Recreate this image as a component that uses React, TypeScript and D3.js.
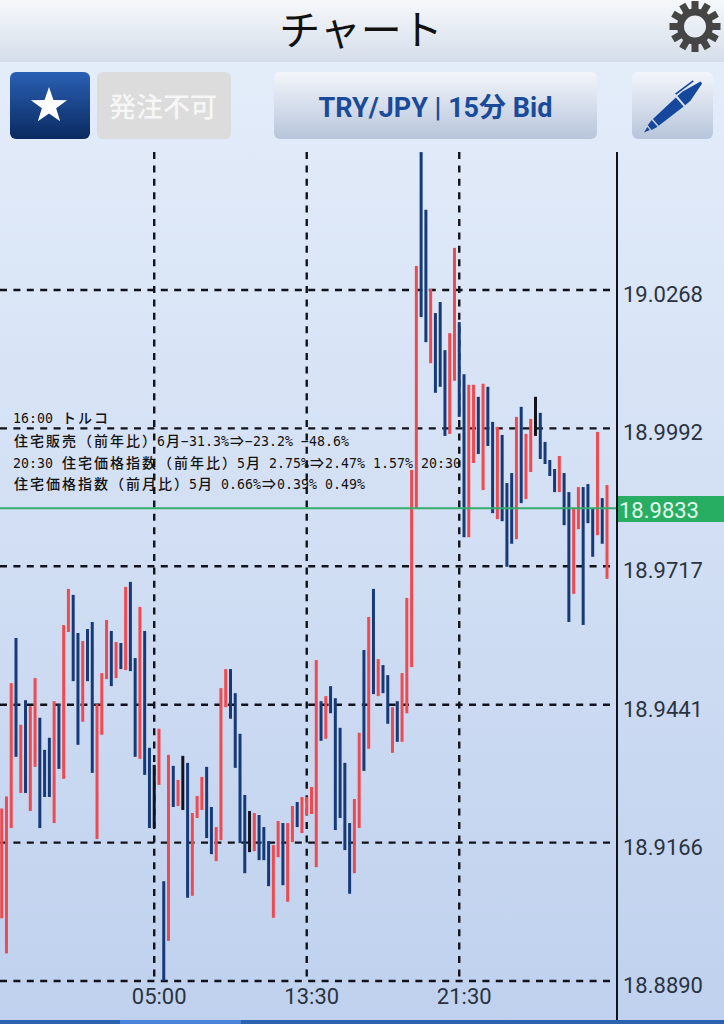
import React from "react";
import * as d3 from "d3";

const highs = [
  18.9234, 18.9258, 18.9484, 18.9574, 18.9401, 18.945, 18.9438, 18.9494, 18.9415, 18.9351,
  18.9375, 18.9448, 18.9442, 18.96, 18.9672, 18.966, 18.9584, 18.9568, 18.9592, 18.9606,
  18.9442, 18.9504, 18.961, 18.9588, 18.9566, 18.9564, 18.9676, 18.9686, 18.9534, 18.9636,
  18.9588, 18.9355, 18.9321, 18.9393, 18.9089, 18.9341, 18.9319, 18.9291, 18.9339, 18.9325,
  18.9225, 18.9259, 18.9297, 18.9317, 18.9237, 18.9197, 18.9474, 18.9512, 18.9512, 18.9464,
  18.9383, 18.9261, 18.9229, 18.9225, 18.9221, 18.9197, 18.9169, 18.9161, 18.9209, 18.9205,
  18.9205, 18.9239, 18.9247, 18.9257, 18.9257, 18.9277, 18.953, 18.9448, 18.9458, 18.9478,
  18.9454, 18.9395, 18.9325, 18.9205, 18.9253, 18.9385, 18.955, 18.9616, 18.9672, 18.9532,
  18.952, 18.95, 18.9436, 18.9448, 18.9504, 18.9654, 18.9909, 19.0316, 19.0543, 19.0428,
  19.027, 19.0222, 19.0244, 19.0148, 19.0182, 19.0352, 19.0204, 19.01, 19.0079, 19.0079,
  19.0055, 19.0081, 19.0075, 19.0005, 18.9995, 18.9979, 18.9883, 18.9903, 19.0015, 19.0035,
  18.9981, 19.0011, 19.0055, 19.0023, 18.9965, 18.9929, 18.9911, 18.9937, 18.9903, 18.9865,
  18.9833, 18.9875, 18.9875, 18.9881, 18.9833, 18.9985, 18.9853, 18.9879,
];

const lows = [
  18.9015, 18.8945, 18.9195, 18.9337, 18.9265, 18.9265, 18.9229, 18.9317, 18.9195, 18.9257,
  18.9257, 18.9205, 18.9313, 18.9293, 18.9586, 18.9488, 18.9361, 18.9407, 18.9488, 18.9305,
  18.9173, 18.9381, 18.9492, 18.9478, 18.9494, 18.9512, 18.951, 18.9508, 18.9337, 18.9333,
  18.9301, 18.9195, 18.9195, 18.9281, 18.889, 18.897, 18.9237, 18.9239, 18.9231, 18.9056,
  18.906, 18.9215, 18.9231, 18.9175, 18.9143, 18.9129, 18.9171, 18.9436, 18.9413, 18.9315,
  18.9165, 18.9105, 18.9147, 18.9149, 18.9131, 18.9131, 18.9079, 18.9016, 18.9137, 18.9081,
  18.9048, 18.9167, 18.9197, 18.9185, 18.9221, 18.9223, 18.9117, 18.9369, 18.9373, 18.9424,
  18.9191, 18.9215, 18.9151, 18.9064, 18.9105, 18.9195, 18.9309, 18.9353, 18.9462, 18.9458,
  18.9464, 18.9403, 18.9345, 18.9367, 18.9367, 18.9424, 18.9516, 18.9833, 19.0214, 19.0164,
  19.0122, 19.0063, 19.0075, 18.9977, 18.9981, 19.0087, 19.0015, 18.9775, 18.9775, 18.9923,
  18.9941, 18.9869, 18.9957, 18.9823, 18.9811, 18.9807, 18.9716, 18.9762, 18.9771, 18.9843,
  18.9851, 18.9905, 18.9977, 18.9931, 18.9921, 18.9897, 18.9865, 18.9865, 18.9799, 18.9606,
  18.9662, 18.9791, 18.96, 18.9803, 18.9736, 18.9779, 18.9762, 18.9692,
];

// r = up, b = down, k = unchanged
const directions =
  "rrrbrbrrbb" + "brbrrbbrbb" + "rrrbrbrbbr" + "bbkrbrbrkb" + "rrrbbrrrbb" + "bbkrbbbrrb" +
  "rrbrrrrbrb" + "bbbbrrbrbr" + "bbrbrrrrbb" + "rbbbrrbbrr" + "brbbrbbbrb" + "rrkbbbbrbb" + "rrbbbrbr";

const priceTicks = ["19.0268", "18.9992", "18.9717", "18.9441", "18.9166", "18.8890"];
const timeTicks = [
  { bar: 32, label: "05:00" },
  { bar: 64, label: "13:30" },
  { bar: 96, label: "21:30" },
];
const lastPrice = "18.9833";

const eventLines = [
  "16:00 トルコ",
  "住宅販売（前年比）6月−31.3%⇒−23.2% −48.6%",
  "20:30 住宅価格指数（前年比）5月 2.75%⇒2.47% 1.57% 20:30",
  "住宅価格指数（前月比）5月 0.66%⇒0.39% 0.49%",
];
const eventBaselines = [423, 446, 468, 489];

const barColor: Record<string, string> = { r: "#ef4a50", b: "#163a78", k: "#10131c" };
const sans = "Roboto, 'Noto Sans CJK JP', sans-serif";
const jp = "'Noto Sans CJK JP', sans-serif";

const x = d3.scaleLinear().domain([0, highs.length - 1]).range([1.7, 607]);
const y = d3.scaleLinear().domain([18.889, 19.0268]).range([981, 290]);

const starPath = d3.lineRadial().curve(d3.curveLinearClosed)(
  d3.range(10).map(i => [(i * Math.PI) / 5, i % 2 ? 7.5 : 19] as [number, number])
) as string;

// the event box uses a half/full width terminal font: 8px and 16px cells
function EventLine({ text, baseline }: { text: string; baseline: number }) {
  let cursor = 13;
  const cells = Array.from(text).map((ch, i) => {
    const wide = /[^\x00-\x7f−]/.test(ch);
    const cell = (
      <tspan
        key={i}
        x={cursor + (wide ? 1 : 0)}
        fontFamily={wide ? jp : "'DejaVu Sans Mono', monospace"}
        fontSize={wide ? 14 : 13.2}
        fontWeight={wide ? 500 : 400}
      >
        {ch}
      </tspan>
    );
    cursor += wide ? 16 : 8;
    return cell;
  });
  return <text y={baseline} fill="#111">{cells}</text>;
}

function Gear() {
  return (
    <g transform="translate(695,26.5)" fill="#454545">
      {d3.range(12).map(i => (
        <rect key={i} x={-3.5} y={-25.5} width={7} height={12} transform={`rotate(${i * 30})`} />
      ))}
      <circle r={14.5} fill="none" stroke="#454545" strokeWidth={7} />
    </g>
  );
}

function Pen() {
  return (
    <g transform="translate(644,132.5) rotate(-40.5)" fill="#15479c">
      <path d="M0,0 L6,-2 L6,2 Z" />
      <path d="M7.5,-3 L14,-4.5 L14,4.5 L7.5,3 Z" />
      <path d="M15.5,-4.5 L47,-6 L47,6 L15.5,4.5 Z" />
      <path d="M49,-6 L56,-6 L76,-2 L76,0.5 L56,6 L49,6 Z" />
      <path d="M49,-9.5 L71,-8 L71,-6.5 L49,-7.8 Z" />
    </g>
  );
}

export default function App() {
  return (
    <svg width={724} height={1024} style={{ position: "fixed", left: 0, top: 0, display: "block" }}>
      <defs>
        <linearGradient id="header" x1="0" y1="0" x2="0" y2="1">
          <stop offset="0" stopColor="#f6f8fb" />
          <stop offset="1" stopColor="#d5deea" />
        </linearGradient>
        <linearGradient id="plot" x1="0" y1="0" x2="0" y2="1">
          <stop offset="0" stopColor="#e6eefa" />
          <stop offset="1" stopColor="#bfd1ee" />
        </linearGradient>
        <linearGradient id="navy" x1="0" y1="0" x2="0" y2="1">
          <stop offset="0" stopColor="#2a60b4" />
          <stop offset="1" stopColor="#0a2a60" />
        </linearGradient>
        <linearGradient id="button" x1="0" y1="0" x2="0" y2="1">
          <stop offset="0" stopColor="#f3f6fb" />
          <stop offset="1" stopColor="#b7c5da" />
        </linearGradient>
      </defs>

      <rect width={724} height={1024} fill="url(#plot)" />
      <rect width={724} height={62} fill="url(#header)" />
      <text x={361} y={45} textAnchor="middle" fontFamily={jp} fontSize={41} fill="#111">チャート</text>
      <Gear />

      <rect x={10} y={72} width={80} height={67} rx={6} fill="url(#navy)" />
      <path d={starPath} transform="translate(49,106)" fill="#fff" />
      <rect x={97} y={72} width={134} height={67} rx={6} fill="#dcdcdc" />
      <text x={163} y={117} textAnchor="middle" fontFamily={jp} fontSize={27} fontWeight={500} fill="#f6f6f6">発注不可</text>
      <rect x={274} y={72} width={323} height={67} rx={6} fill="url(#button)" />
      <text x={435.5} y={117} textAnchor="middle" fontFamily={sans} fontSize={27} fontWeight={700} fill="#1a4a9a">TRY/JPY | 15分 Bid</text>
      <rect x={632} y={72} width={81} height={67} rx={6} fill="url(#button)" />
      <Pen />

      <g stroke="#10131c" strokeWidth={2.4} strokeDasharray="7 6.4">
        {priceTicks.map(t => (
          <line key={t} x1={0} x2={611} y1={y(+t)} y2={y(+t)} />
        ))}
        {timeTicks.map(t => (
          <line key={t.label} x1={x(t.bar)} x2={x(t.bar)} y1={152} y2={981} />
        ))}
      </g>

      {highs.map((h, i) => (
        <line
          key={i}
          x1={x(i)}
          x2={x(i)}
          y1={y(h)}
          y2={y(lows[i])}
          stroke={barColor[directions[i]]}
          strokeWidth={3}
        />
      ))}

      {eventLines.map((l, i) => (
        <EventLine key={i} text={l} baseline={eventBaselines[i]} />
      ))}

      <line x1={0} x2={617} y1={y(+lastPrice)} y2={y(+lastPrice)} stroke="#35ac6e" strokeWidth={2} />
      <line x1={617} x2={617} y1={152} y2={1020} stroke="#10131c" strokeWidth={2} />

      {priceTicks.map(t => (
        <text key={t} x={623} y={y(+t) + 12} fontFamily={sans} fontSize={22} fill="#2a3340">{t}</text>
      ))}
      <rect x={618} y={496} width={106} height={26} fill="#27ae62" />
      <text x={619} y={518} fontFamily={sans} fontSize={22} fill="#e4f8ec">{lastPrice}</text>

      {timeTicks.map(t => (
        <text key={t.label} x={x(t.bar) + 5} y={1004} textAnchor="middle" fontFamily={sans} fontSize={22} fill="#2a3340">{t.label}</text>
      ))}

      <rect x={0} y={1020} width={724} height={4} fill="#2c62b0" />
      <rect x={120} y={1020} width={121} height={4} fill="#4a82da" />
    </svg>
  );
}
